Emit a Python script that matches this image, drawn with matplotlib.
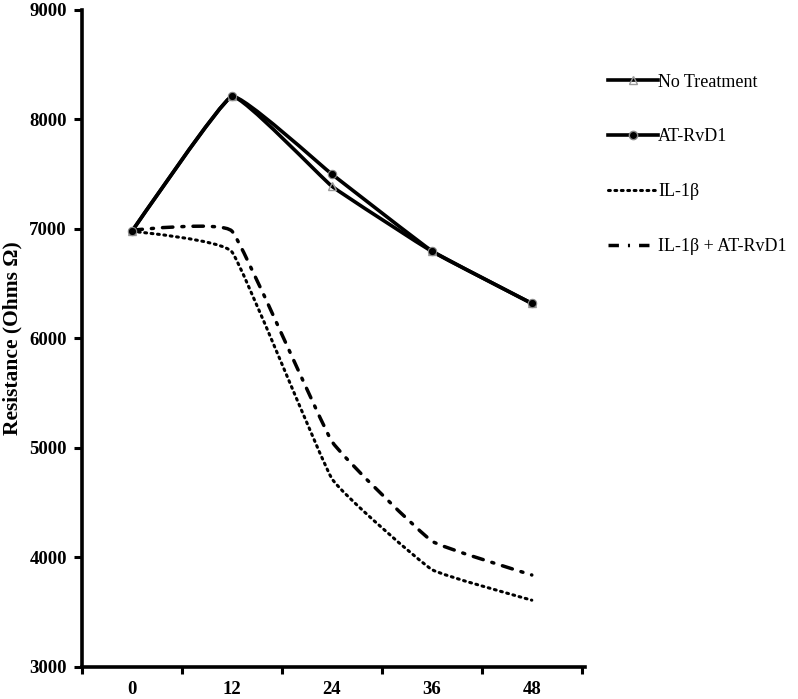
import matplotlib
matplotlib.use("Agg")
import matplotlib.pyplot as plt
from matplotlib.path import Path
from matplotlib.patches import PathPatch
from matplotlib.lines import Line2D
import numpy as np

categories = ["0", "12", "24", "36", "48"]
no_treatment = [6980, 8210, 7390, 6795, 6320]
at_rvd1 = [6980, 8210, 7500, 6800, 6320]
il1b = [6980, 6790, 4720, 3890, 3610]
il1b_at_rvd1 = [6990, 6980, 5060, 4150, 3840]
series_names = ["No Treatment", "AT-RvD1", "IL-1\u03b2", "IL-1\u03b2 + AT-RvD1"]
y_ticks = [3000, 4000, 5000, 6000, 7000, 8000, 9000]

serif = ["Liberation Serif", "DejaVu Serif"]
plt.rcParams["font.family"] = serif

fig = plt.figure(figsize=(7.98, 6.99), dpi=100)
ax = fig.add_axes([0.1028, 0.0458, 0.630, 0.940])

x = np.arange(len(categories))


def smooth_path(xs, ys, t=0.05):
    pts = np.column_stack([xs, ys]).astype(float)
    n = len(pts)
    verts = [pts[0]]
    codes = [Path.MOVETO]
    for i in range(n - 1):
        p0 = pts[i - 1] if i > 0 else pts[i]
        p1 = pts[i]
        p2 = pts[i + 1]
        p3 = pts[i + 2] if i + 2 < n else pts[i + 1]
        c1 = p1 + (p2 - p0) * t
        c2 = p2 - (p3 - p1) * t
        verts += [c1, c2, p2]
        codes += [Path.CURVE4] * 3
    return Path(verts, codes)


dot_ls = (0, (0.6, 1.5))
dashdot_ls = (0, (3.0, 2.6, 0.6, 2.6))
styles = [
    dict(ls="-", lw=2.6),
    dict(ls="-", lw=2.6),
    dict(ls=dot_ls, lw=2.2),
    dict(ls=dashdot_ls, lw=2.5),
]
data = [no_treatment, at_rvd1, il1b, il1b_at_rvd1]

for vals, st in zip(data, styles):
    patch = PathPatch(smooth_path(x, vals), facecolor="none", edgecolor="black",
                      linewidth=st["lw"], linestyle=st["ls"], capstyle="round",
                      joinstyle="round")
    ax.add_patch(patch)

ax.plot(x, no_treatment, linestyle="none", marker="^", markersize=6,
        markerfacecolor="none", markeredgecolor="#9a9a9a", markeredgewidth=1.0, zorder=3)
ax.plot(x, at_rvd1, linestyle="none", marker="o", markersize=6,
        markerfacecolor="black", markeredgecolor="#8a8a8a", markeredgewidth=0.8, zorder=4)

ax.set_xlim(-0.5, 4.53)
ax.set_ylim(3000, 9000)

ax.set_yticks(y_ticks)
ax.set_yticklabels([str(v) for v in y_ticks], fontweight="bold", fontsize=13.5)
ax.set_xticks(np.arange(-0.5, len(categories) - 0.4, 1.0))
ax.set_xticklabels([])
ax.set_xticks(x, minor=True)
ax.set_xticklabels(categories, minor=True, fontweight="bold", fontsize=13.5)
ax.tick_params(axis="x", which="minor", length=0, pad=10)
ax.tick_params(axis="x", which="major", length=5, width=2.2, direction="out")
ax.tick_params(axis="y", which="major", length=6, width=2.2, direction="out", pad=5)

for s in ["top", "right"]:
    ax.spines[s].set_visible(False)
for s in ["left", "bottom"]:
    ax.spines[s].set_linewidth(2.6)

ax.set_ylabel("Resistance (Ohms \u03a9)", fontweight="bold", fontsize=15.5, labelpad=5)

handles = [
    Line2D([], [], color="black", lw=2.6, marker="^", markersize=6,
           markerfacecolor="none", markeredgecolor="#9a9a9a"),
    Line2D([], [], color="black", lw=2.6, marker="o", markersize=6,
           markerfacecolor="black", markeredgecolor="#8a8a8a"),
    Line2D([], [], color="black", lw=2.2, ls=dot_ls, dash_capstyle="round"),
    Line2D([], [], color="black", lw=2.5, ls=dashdot_ls),
]
leg = fig.legend(handles, series_names, loc="upper left", bbox_to_anchor=(0.741, 0.918),
                 frameon=False, fontsize=13.0, handlelength=2.8, handletextpad=0.0,
                 labelspacing=2.1)

fig.savefig("out.png", dpi=100)
